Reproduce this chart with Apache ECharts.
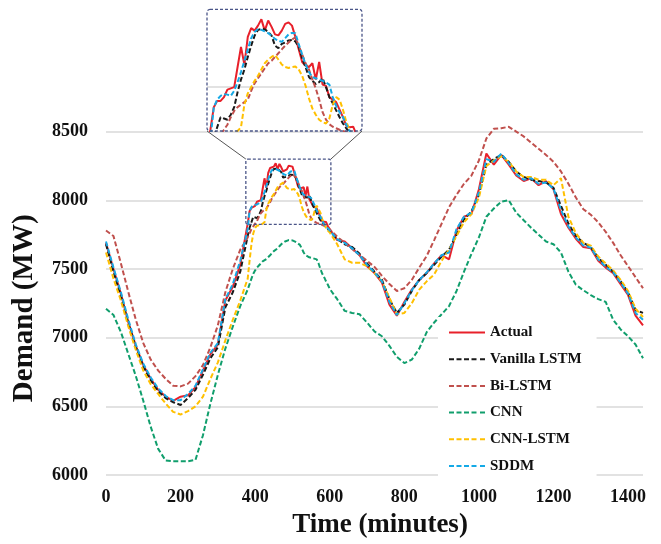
<!DOCTYPE html>
<html><head><meta charset="utf-8">
<script src="https://cdn.jsdelivr.net/npm/echarts@6/dist/echarts.min.js"></script>
<style>html,body{margin:0;padding:0;background:#fff}#c{width:661px;height:544px}</style>
</head><body><div id="c"></div>
<script>
const minutes = [0,20,40,60,80,100,120,140,160,180,200,220,240,260,280,300,320,340,360,
380,385,390,395,400,405,410,415,420,425,430,435,440,445,450,455,460,465,470,475,480,485,490,495,500,505,510,515,520,525,530,535,540,545,550,555,560,565,570,575,580,585,590,595,600,
620,640,660,680,700,720,740,760,780,800,820,840,860,880,900,920,940,960,980,1000,1020,1040,1060,1080,1100,1120,1140,1160,1180,1200,1220,1240,1260,1280,1300,1320,1340,1360,1380,1400,1420,1440];

const actual = [7690,7500,7320,7110,6940,6800,6700,6620,6570,6540,6570,6580,6640,6760,6880,6950,7270,7370,7530,
7830,7920,7945,7945,7960,7990,7995,8000,8080,8160,8090,8200,8235,8225,8245,8270,8225,8265,8240,8210,8206,8225,8252,8258,8245,8200,8150,8100,8085,8080,8095,8030,8100,8010,8005,7960,7950,7940,7910,7880,7845,7840,7842,7810,7790,
7710,7700,7650,7600,7520,7470,7400,7240,7160,7260,7350,7420,7470,7540,7600,7570,7780,7880,7900,8080,8340,8260,8330,8260,8180,8140,8160,8110,8140,8080,7900,7800,7720,7660,7650,7560,7510,7470,7390,7310,7160,7090];

const vanillaLSTM = [7680,7480,7300,7100,6930,6790,6690,6610,6560,6530,6510,6560,6620,6730,6850,6930,7220,7330,7480,
7740,7800,7840,7880,7875,7870,7890,7920,7980,8030,8070,8120,8165,8205,8228,8232,8230,8220,8205,8165,8155,8172,8178,8186,8188,8182,8160,8115,8080,8040,8025,8012,8020,8035,8000,7960,7935,7907,7880,7855,7835,7820,7805,7790,7775,
7720,7680,7660,7610,7540,7480,7420,7280,7180,7240,7340,7420,7470,7530,7590,7640,7750,7860,7920,8040,8260,8300,8330,8280,8210,8170,8150,8140,8130,8090,7960,7830,7740,7690,7660,7580,7530,7480,7410,7330,7200,7180];

const biLSTM = [7780,7740,7540,7330,7130,6960,6840,6760,6700,6650,6645,6665,6720,6800,6930,7090,7330,7500,7640,
7730,7760,7790,7810,7830,7850,7880,7905,7920,7930,7940,7950,7985,8015,8035,8055,8075,8095,8105,8120,8135,8150,8165,8178,8190,8198,8165,8130,8095,8070,8030,7995,7950,7900,7870,7852,7842,7836,7830,7825,7820,7815,7812,7800,7790,
7735,7690,7645,7600,7560,7515,7450,7390,7340,7360,7420,7510,7595,7710,7830,7950,8040,8120,8180,8290,8450,8520,8525,8535,8500,8465,8420,8375,8330,8280,8210,8120,8020,7935,7895,7840,7770,7690,7600,7520,7440,7360];

const cnn = [7210,7165,7040,6880,6720,6540,6350,6190,6105,6100,6100,6100,6110,6290,6520,6730,6920,7080,7230,
7350,7390,7430,7465,7490,7510,7525,7540,7555,7565,7572,7585,7600,7615,7630,7640,7650,7665,7680,7690,7700,7705,7710,7712,7708,7700,7695,7685,7675,7650,7620,7600,7590,7585,7580,7578,7575,7570,7540,7500,7465,7440,7410,7385,7355,
7280,7195,7180,7170,7110,7045,7010,6940,6860,6815,6840,6920,7040,7110,7170,7230,7340,7480,7610,7730,7880,7940,7990,8000,7910,7855,7800,7750,7700,7680,7620,7480,7385,7345,7310,7280,7260,7130,7060,7010,6950,6850];

const cnnLSTM = [7620,7430,7270,7080,6910,6760,6660,6590,6520,6460,6440,6465,6500,6570,6700,6820,6980,7130,7270,
7430,7560,7680,7760,7800,7815,7810,7820,7825,7840,7930,7975,8000,8025,8045,8070,8095,8110,8120,8128,8110,8090,8080,8076,8080,8082,8070,8045,8005,7955,7915,7890,7870,7860,7855,7875,7930,7960,7950,7910,7860,7830,7800,7780,7765,
7680,7570,7545,7545,7520,7470,7410,7290,7170,7180,7250,7350,7410,7460,7560,7640,7740,7840,7900,8020,8250,8290,8320,8280,8210,8170,8170,8150,8150,8110,8160,7880,7760,7690,7670,7590,7540,7490,7420,7340,7210,7150];

const sddm = [7700,7510,7330,7130,6950,6810,6710,6630,6575,6545,6545,6590,6650,6770,6890,6960,7280,7390,7560,
7790,7920,7950,7965,7972,7970,7965,7985,8020,8060,8105,8150,8195,8220,8232,8228,8222,8215,8205,8192,8185,8180,8195,8210,8216,8215,8170,8130,8090,8060,8040,8035,8030,8025,8018,8010,7960,7925,7900,7880,7850,7825,7810,7795,7780,
7715,7690,7650,7600,7530,7475,7410,7260,7165,7250,7345,7420,7475,7540,7600,7620,7790,7880,7910,8060,8300,8280,8340,8270,8190,8150,8160,8120,8130,8085,7930,7810,7730,7670,7655,7570,7515,7475,7400,7320,7180,7130];

const seriesNames = ['Actual','Vanilla LSTM','Bi-LSTM','CNN','CNN-LSTM','SDDM'];
const seriesValues = [actual, vanillaLSTM, biLSTM, cnn, cnnLSTM, sddm];
const seriesColors = ['#e8202a','#1a1a1a','#c0504d','#109e6c','#ffc000','#14a9e6'];
const zoomX = [375, 603];
const zoomY = [7825, 8300];
const insetY = [7825, 8310];
const insetGridValue = 8000;

const FONT = 'Liberation Serif, Times New Roman, serif';
const SOLID_ICON = 'path://M0,0h36v2h-36z';
const DASH_ICON = 'path://M0,0h5v2h-5zM7.5,0h5v2h-5zM15,0h5v2h-5zM22.5,0h5v2h-5zM31,0h5v2h-5z';
const chart = echarts.init(document.getElementById('c'));

const series = [];
seriesValues.forEach((vals, i) => {
  const data = minutes.map((t, k) => [t, vals[k]]);
  const ls = {color: seriesColors[i], width: 2, type: i === 0 ? 'solid' : [5, 2.5]};
  series.push({name: seriesNames[i], type: 'line', data, showSymbol: false, symbol: 'none', clip: false,
    lineStyle: ls, itemStyle: {color: seriesColors[i]}, xAxisIndex: 0, yAxisIndex: 0, z: 2});
  const inset = {name: seriesNames[i], type: 'line', data, showSymbol: false, symbol: 'none',
    lineStyle: ls, itemStyle: {color: seriesColors[i]}, xAxisIndex: 1, yAxisIndex: 1, clip: true, z: 3, silent: true};
  if (i === 0) {
    inset.markLine = {silent: true, symbol: 'none', label: {show: false},
      lineStyle: {color: '#d9d9d9', width: 1.5, type: 'solid'}, data: [{yAxis: insetGridValue}], z: 1};
  }
  series.push(inset);
});

chart.setOption({
  animation: false,
  backgroundColor: '#fff',
  grid: [
    {left: 106, right: 18, top: 131.6, bottom: 66.5},
    {left: 207, top: 9.3, width: 155, height: 121.7, backgroundColor: '#fff', show: true, borderWidth: 0}
  ],
  xAxis: [
    {type: 'value', gridIndex: 0, min: 0, max: 1440, interval: 200,
      axisLine: {show: false}, axisTick: {show: false}, splitLine: {show: false},
      axisLabel: {fontFamily: FONT, fontWeight: 'bold', fontSize: 18, color: '#111', margin: 13, showMaxLabel: false,
        formatter: v => String(v)},
      name: 'Time (minutes)', nameLocation: 'middle', nameGap: 37,
      nameTextStyle: {fontFamily: FONT, fontWeight: 'bold', fontSize: 27, color: '#111', padding: [0, 0, 0, 11]}},
    {type: 'value', gridIndex: 1, min: zoomX[0], max: zoomX[1], show: false}
  ],
  yAxis: [
    {type: 'value', gridIndex: 0, min: 6000, max: 8500, interval: 500,
      axisLine: {show: false}, axisTick: {show: false},
      splitLine: {show: true, lineStyle: {color: '#d9d9d9', width: 1.5}},
      axisLabel: {fontFamily: FONT, fontWeight: 'bold', fontSize: 18, color: '#111', margin: 18,
        formatter: v => String(v)},
      name: 'Demand (MW)', nameLocation: 'middle', nameGap: 67, nameRotate: 90,
      nameTextStyle: {fontFamily: FONT, fontWeight: 'bold', fontSize: 29, color: '#111', padding: [0, 10, 0, 0]}},
    {type: 'value', gridIndex: 1, min: insetY[0], max: insetY[1], show: false}
  ],
  legend: {
    data: seriesNames.map((n, i) => ({name: n, icon: i === 0 ? SOLID_ICON : DASH_ICON})),
    orient: 'vertical', left: 438, top: 317,
    padding: [8, 15, 8, 11], backgroundColor: '#fff',
    itemWidth: 36, itemHeight: 14, itemGap: 11.7, itemTextGap: 5, symbolKeepAspect: true,
    textStyle: {fontFamily: FONT, fontWeight: 'bold', fontSize: 15, color: '#111', lineHeight: 14}
  },
  series
});

const a = chart.convertToPixel({gridIndex: 0}, [zoomX[0], zoomY[1]]);
const b = chart.convertToPixel({gridIndex: 0}, [zoomX[1], zoomY[0]]);
const c = chart.convertToPixel({gridIndex: 1}, [zoomX[0], insetY[1]]);
const d = chart.convertToPixel({gridIndex: 1}, [zoomX[1], insetY[0]]);
const boxStyle = {fill: 'none', stroke: '#4a5588', lineWidth: 1.3, lineDash: [3, 2]};
chart.setOption({
  graphic: [
    {type: 'rect', z: 10, silent: true, shape: {x: a[0], y: a[1], width: b[0] - a[0], height: b[1] - a[1], r: 2}, style: boxStyle},
    {type: 'rect', z: 10, silent: true, shape: {x: c[0], y: c[1], width: d[0] - c[0], height: d[1] - c[1], r: 3}, style: boxStyle},
    {type: 'line', z: 10, silent: true, shape: {x1: c[0], y1: d[1], x2: a[0], y2: a[1]}, style: {stroke: '#555', lineWidth: 1}},
    {type: 'line', z: 10, silent: true, shape: {x1: d[0], y1: d[1], x2: b[0], y2: a[1]}, style: {stroke: '#555', lineWidth: 1}}
  ]
});
</script></body></html>
